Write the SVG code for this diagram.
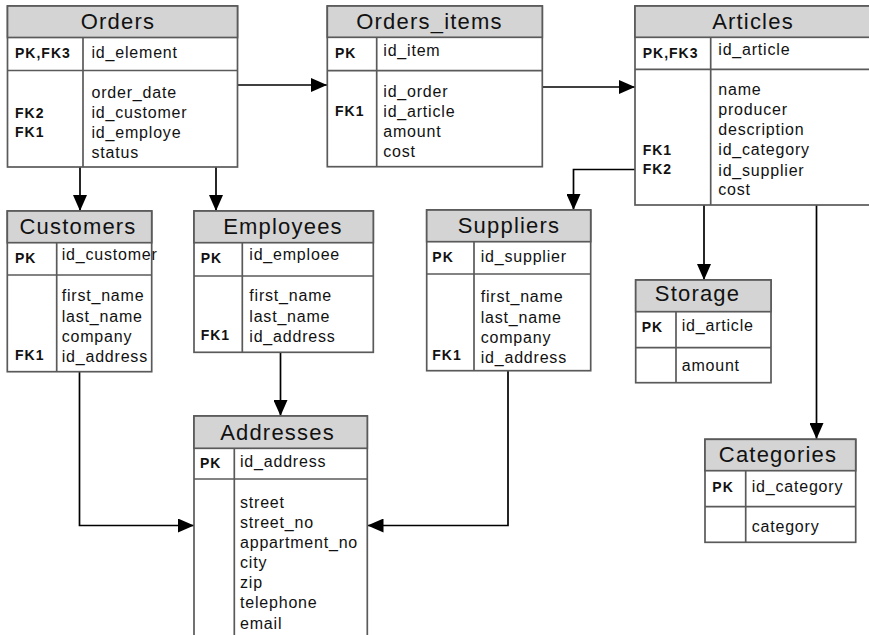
<svg xmlns="http://www.w3.org/2000/svg" width="869" height="635" viewBox="0 0 869 635">
<defs>
<marker id="arr" markerUnits="userSpaceOnUse" markerWidth="16" markerHeight="14" refX="16" refY="7" orient="auto">
<path d="M0,0 L16,7 L0,14 z" fill="#000"/>
</marker>
<style>
.body{fill:#fff;stroke:#5a5a5a;stroke-width:1.7}
.head{fill:#d4d4d4;stroke:#5a5a5a;stroke-width:1.7}
.sep{stroke:#5a5a5a;stroke-width:1.7;fill:none}
.title{font-family:"Liberation Sans",Arial,sans-serif;font-size:22px;letter-spacing:1.2px;fill:#111;text-anchor:middle}
.key{font-family:"Liberation Sans",Arial,sans-serif;font-size:14px;font-weight:bold;letter-spacing:1px;fill:#111}
.fld{font-family:"Liberation Sans",Arial,sans-serif;font-size:16px;letter-spacing:0.8px;fill:#111}
.con{stroke:#000;stroke-width:1.7;fill:none;marker-end:url(#arr)}
</style>
</defs>
<rect width="869" height="635" fill="#fff"/>

<g id="connectors">
<path class="con" d="M237.5,85 H327"/>
<path class="con" d="M542.3,87 H635"/>
<path class="con" d="M80,167 V211"/>
<path class="con" d="M216,167 V211"/>
<path class="con" d="M635,169.5 H573.5 V210"/>
<path class="con" d="M704,205 V280"/>
<path class="con" d="M816.5,205 V439"/>
<path class="con" d="M280.5,352.5 V416"/>
<path class="con" d="M79.5,372 V525.5 H194"/>
<path class="con" d="M508,371 V525.5 H367.5"/>
</g>

<g id="orders">
<rect class="body" x="7.5" y="6" width="230" height="161"/>
<rect class="head" x="7.5" y="6" width="230" height="31.5"/>
<line class="sep" x1="7.5" y1="70.5" x2="237.5" y2="70.5"/>
<line class="sep" x1="83" y1="37.5" x2="83" y2="167"/>
<text class="title" x="118" y="29">Orders</text>
<text class="key" x="15" y="58.3">PK,FK3</text>
<text class="fld" x="91.5" y="57.5">id_element</text>
<text class="key" x="15" y="118.3">FK2</text>
<text class="key" x="15" y="137">FK1</text>
<text class="fld" x="91.5" y="98.3">order_date</text>
<text class="fld" x="91.5" y="118.3">id_customer</text>
<text class="fld" x="91.5" y="138.3">id_employe</text>
<text class="fld" x="91.5" y="158.3">status</text>
</g>

<g id="orders_items">
<rect class="body" x="327.3" y="6" width="215" height="160.7"/>
<rect class="head" x="327.3" y="6" width="215" height="31.3"/>
<line class="sep" x1="327.3" y1="70.7" x2="542.3" y2="70.7"/>
<line class="sep" x1="376.7" y1="37.3" x2="376.7" y2="166.7"/>
<text class="title" x="429.5" y="29">Orders_items</text>
<text class="key" x="335" y="58.3">PK</text>
<text class="fld" x="383.3" y="55.7">id_item</text>
<text class="key" x="335" y="115.5">FK1</text>
<text class="fld" x="383.3" y="96.7">id_order</text>
<text class="fld" x="383.3" y="116.7">id_article</text>
<text class="fld" x="383.3" y="136.7">amount</text>
<text class="fld" x="383.3" y="156.7">cost</text>
</g>

<g id="articles">
<rect class="body" x="635" y="6" width="245" height="199"/>
<rect class="head" x="635" y="6" width="245" height="31.3"/>
<line class="sep" x1="635" y1="69.3" x2="880" y2="69.3"/>
<line class="sep" x1="710.7" y1="37.3" x2="710.7" y2="205"/>
<text class="title" x="753" y="29">Articles</text>
<text class="key" x="642.7" y="58.3">PK,FK3</text>
<text class="fld" x="718.3" y="55">id_article</text>
<text class="key" x="642.7" y="155">FK1</text>
<text class="key" x="642.7" y="173.5">FK2</text>
<text class="fld" x="718.3" y="95">name</text>
<text class="fld" x="718.3" y="115">producer</text>
<text class="fld" x="718.3" y="135">description</text>
<text class="fld" x="718.3" y="155">id_category</text>
<text class="fld" x="718.3" y="175.5">id_supplier</text>
<text class="fld" x="718.3" y="195">cost</text>
</g>

<g id="customers">
<rect class="body" x="7.3" y="211" width="144.4" height="160.7"/>
<rect class="head" x="7.3" y="211" width="144.4" height="31.7"/>
<line class="sep" x1="7.3" y1="275" x2="151.7" y2="275"/>
<line class="sep" x1="56.7" y1="242.7" x2="56.7" y2="371.7"/>
<text class="title" x="78" y="234.3">Customers</text>
<text class="key" x="15" y="263.3">PK</text>
<text class="fld" x="61.7" y="260">id_customer</text>
<text class="key" x="15" y="360">FK1</text>
<text class="fld" x="61.7" y="301">first_name</text>
<text class="fld" x="61.7" y="321.5">last_name</text>
<text class="fld" x="61.7" y="341.7">company</text>
<text class="fld" x="61.7" y="361.7">id_address</text>
</g>

<g id="employees">
<rect class="body" x="194" y="211" width="179.3" height="141.3"/>
<rect class="head" x="194" y="211" width="179.3" height="31.7"/>
<line class="sep" x1="194" y1="276" x2="373.3" y2="276"/>
<line class="sep" x1="242.3" y1="242.7" x2="242.3" y2="352.3"/>
<text class="title" x="283" y="234.3">Employees</text>
<text class="key" x="200.7" y="263.3">PK</text>
<text class="fld" x="249.3" y="260">id_emploee</text>
<text class="key" x="200.7" y="340">FK1</text>
<text class="fld" x="249.3" y="301">first_name</text>
<text class="fld" x="249.3" y="321.5">last_name</text>
<text class="fld" x="249.3" y="341.7">id_address</text>
</g>

<g id="suppliers">
<rect class="body" x="426.7" y="210" width="164" height="160.7"/>
<rect class="head" x="426.7" y="210" width="164" height="31.7"/>
<line class="sep" x1="426.7" y1="274" x2="590.7" y2="274"/>
<line class="sep" x1="474" y1="241.7" x2="474" y2="370.7"/>
<text class="title" x="509" y="233.3">Suppliers</text>
<text class="key" x="432.3" y="261.7">PK</text>
<text class="fld" x="480.7" y="261.7">id_supplier</text>
<text class="key" x="432.3" y="360">FK1</text>
<text class="fld" x="480.7" y="302.3">first_name</text>
<text class="fld" x="480.7" y="322.5">last_name</text>
<text class="fld" x="480.7" y="342.7">company</text>
<text class="fld" x="480.7" y="362.7">id_address</text>
</g>

<g id="storage">
<rect class="body" x="635.7" y="280" width="135.3" height="102.7"/>
<rect class="head" x="635.7" y="280" width="135.3" height="31.7"/>
<line class="sep" x1="635.7" y1="347.7" x2="771" y2="347.7"/>
<line class="sep" x1="676" y1="311.7" x2="676" y2="382.7"/>
<text class="title" x="697.5" y="300.5">Storage</text>
<text class="key" x="641.7" y="331.7">PK</text>
<text class="fld" x="681.7" y="331">id_article</text>
<text class="fld" x="681.7" y="371">amount</text>
</g>

<g id="categories">
<rect class="body" x="705" y="439.3" width="150.7" height="103"/>
<rect class="head" x="705" y="439.3" width="150.7" height="31.4"/>
<line class="sep" x1="705" y1="506.7" x2="855.7" y2="506.7"/>
<line class="sep" x1="745.7" y1="470.7" x2="745.7" y2="542.3"/>
<text class="title" x="778" y="461.7">Categories</text>
<text class="key" x="712.3" y="491.7">PK</text>
<text class="fld" x="751.7" y="491.7">id_category</text>
<text class="fld" x="751.7" y="531.7">category</text>
</g>

<g id="addresses">
<rect class="body" x="194" y="416" width="173.3" height="225"/>
<rect class="head" x="194" y="416" width="173.3" height="32.3"/>
<line class="sep" x1="194" y1="479" x2="367.3" y2="479"/>
<line class="sep" x1="234.3" y1="448.3" x2="234.3" y2="641"/>
<text class="title" x="277.5" y="440">Addresses</text>
<text class="key" x="200" y="468.3">PK</text>
<text class="fld" x="240" y="467.3">id_address</text>
<text class="fld" x="240" y="508.3">street</text>
<text class="fld" x="240" y="528.3">street_no</text>
<text class="fld" x="240" y="548.3">appartment_no</text>
<text class="fld" x="240" y="568.3">city</text>
<text class="fld" x="240" y="588.3">zip</text>
<text class="fld" x="240" y="608.3">telephone</text>
<text class="fld" x="240" y="629">email</text>
</g>
</svg>
